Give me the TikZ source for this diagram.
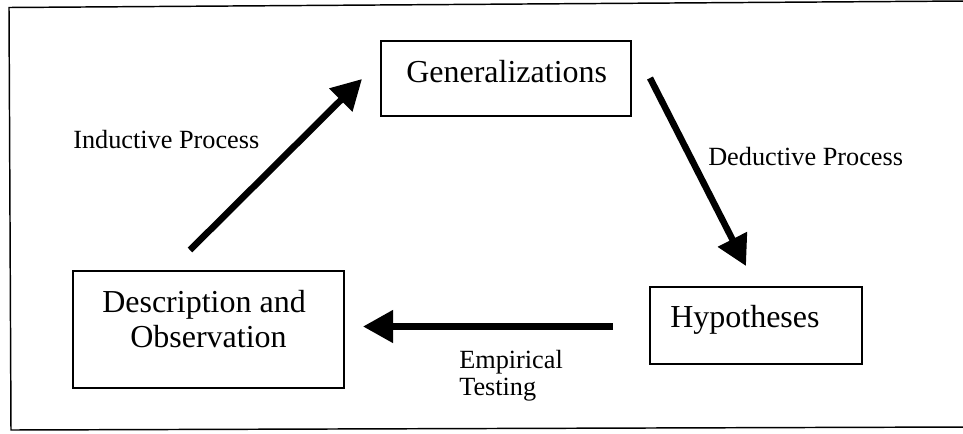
\documentclass[tikz,border=0pt]{standalone}
\usepackage{fontspec}
\setmainfont{Liberation Serif}
\usetikzlibrary{arrows.meta}

\tikzset{
  frameline/.style={line width=1.1pt, line cap=butt, line join=miter},
  box/.style={draw, rectangle, line width=1pt, inner sep=0pt},
  boxtext/.style={font=\fontsize{24}{28}\selectfont, inner sep=0pt},
  note/.style={font=\fontsize{19.7}{24}\selectfont, inner sep=0pt},
  flow/.style={line width=4.9pt, line cap=butt,
    -{Triangle[length=22.5pt, width=23.5pt]}}
}

\begin{document}
\begin{tikzpicture}[x=0.75pt, y=-0.75pt]
  % page area
  \fill[white] (0,0) rectangle (963,433);
  \useasboundingbox (0,0) rectangle (963,433);

  % surrounding frame
  \draw[frameline] (966,1) -- (9,7.5) -- (11,430) -- (966,427);

  % boxes
  \node[box, minimum width=187.5pt, minimum height=56.25pt] (gen) at (506,78.5) {};
  \node[box, minimum width=203.25pt, minimum height=87.75pt] (desc) at (208.5,329.5) {};
  \node[box, minimum width=159pt, minimum height=57.75pt] (hyp) at (756,325.5) {};

  % box texts
  \node[boxtext, anchor=base west] (gentext) at (406,82) {Generalizations};
  \node[boxtext, anchor=base] (desctext1) at (204,312) {Description and};
  \node[boxtext, anchor=base] (desctext2) at (208.5,347) {Observation};
  \node[boxtext, anchor=base west] (hyptext) at (670,327) {Hypotheses};

  % arrow end points
  \coordinate (indTail) at (190,250);
  \coordinate (indTip)  at (362,79);
  \coordinate (dedTail) at (650,78);
  \coordinate (dedTip)  at (746,266);
  \coordinate (empTail) at (613,326.5);
  \coordinate (empTip)  at (363,326.5);

  % process arrows
  \draw[flow] (indTail) -- (indTip);
  \draw[flow] (dedTail) -- (dedTip);
  \draw[flow] (empTail) -- (empTip);

  % arrow labels
  \node[note, anchor=base west] (indlabel) at (73,148) {Inductive Process};
  \node[note, anchor=base west] (dedlabel) at (708,165) {Deductive Process};
  \node[note, anchor=base west] (emplabel1) at (459,368) {Empirical};
  \node[note, anchor=base west] (emplabel2) at (459,395) {Testing};
\end{tikzpicture}
\end{document}
